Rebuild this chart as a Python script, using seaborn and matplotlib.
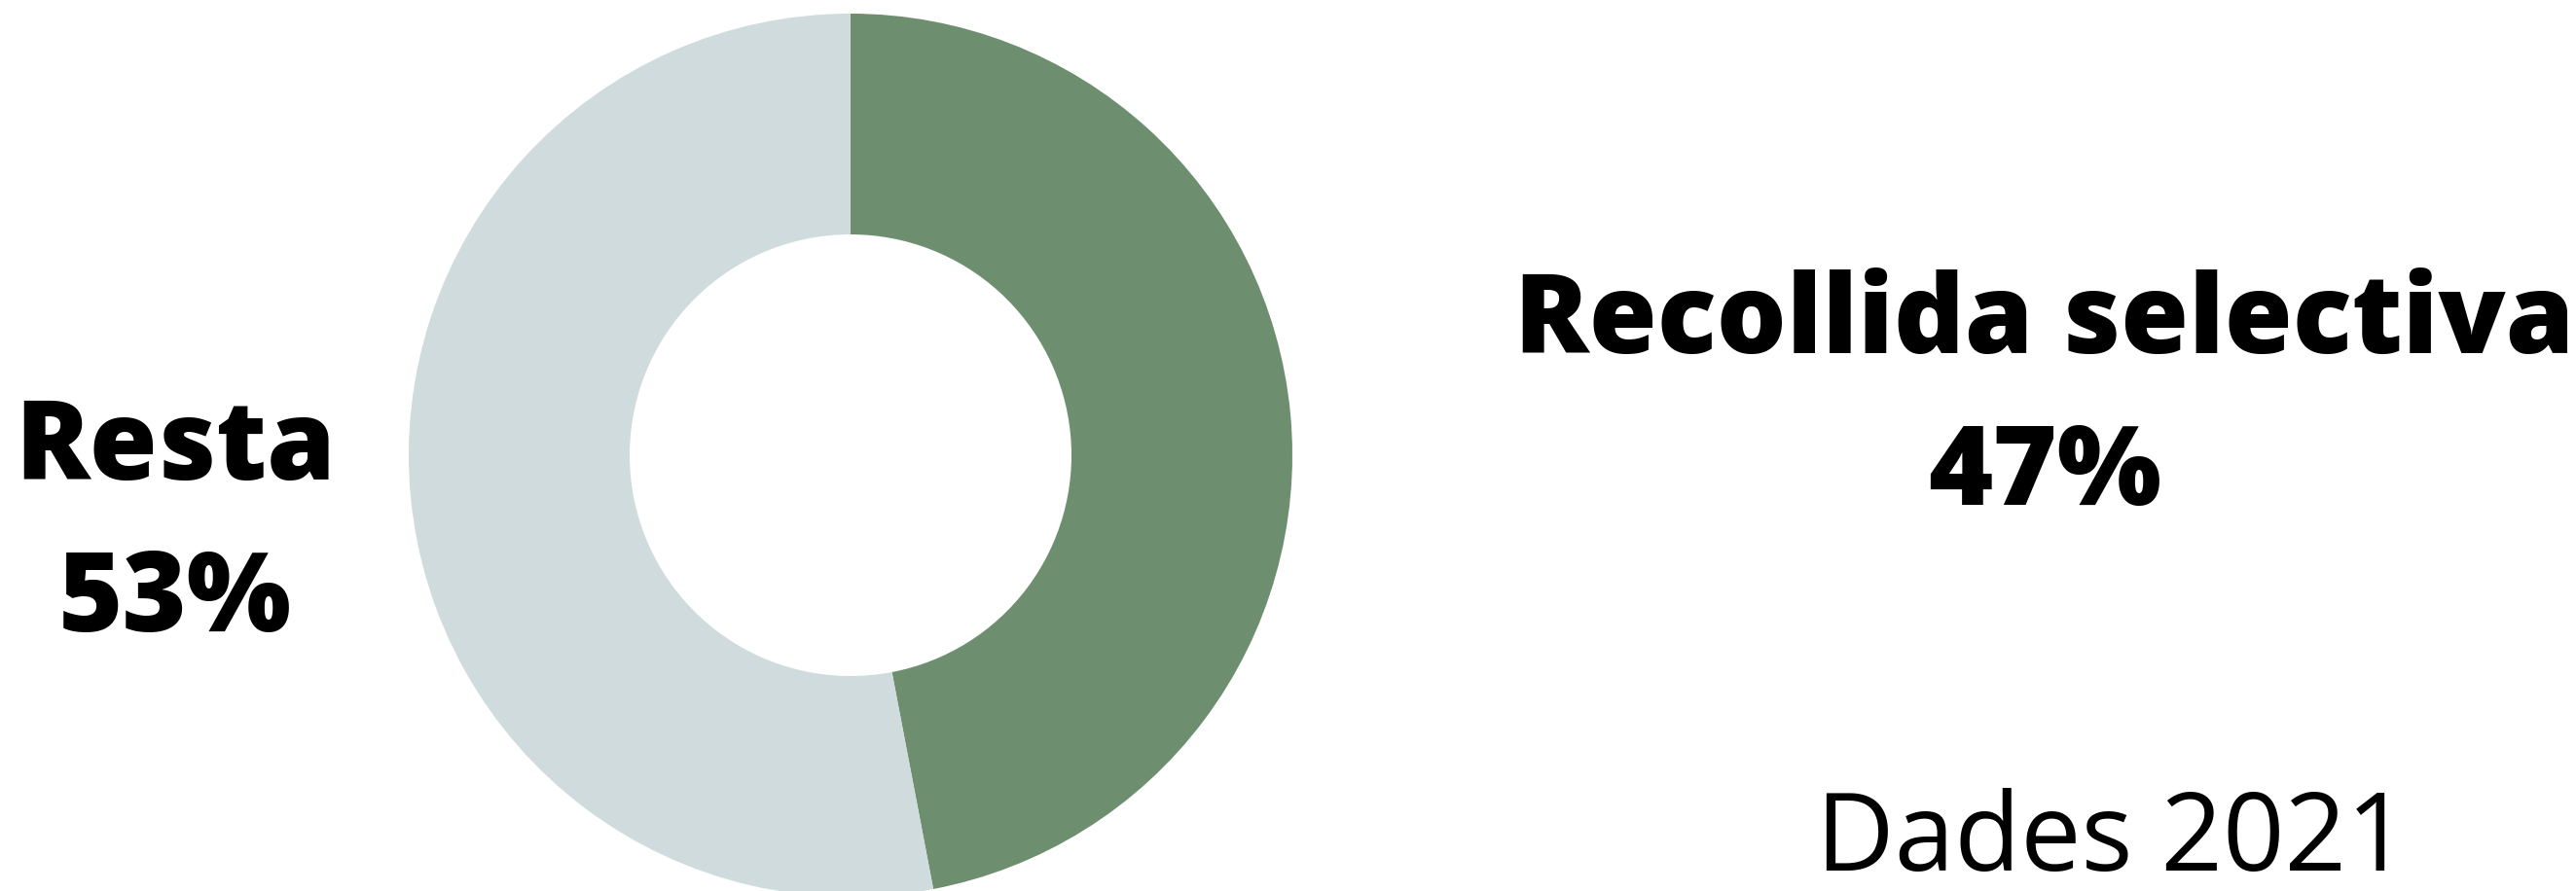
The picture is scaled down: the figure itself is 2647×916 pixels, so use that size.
import matplotlib
matplotlib.use("Agg")
import matplotlib.pyplot as plt
import seaborn as sns

categories = ["Recollida selectiva", "Resta"]
values = [47, 53]
colors = ["#6e8f6f", "#cfdbdc"]
note = "Dades 2021"

sns.set_theme(style="white")
plt.rcParams["font.family"] = ["Open Sans", "DejaVu Sans"]

W, H = 2647, 916
fig = plt.figure(figsize=(W / 100, H / 100), dpi=100)
ax = fig.add_axes([0, 0, 1, 1])

cx, cy, R = 874, H - 468, 454
ax.pie(values, colors=colors, startangle=90, counterclock=False,
       radius=R, center=(cx, cy),
       wedgeprops=dict(width=R / 2, linewidth=0))
ax.set_xlim(0, W)
ax.set_ylim(0, H)
ax.set_aspect("equal")
ax.axis("off")

fs = 81.5
# label positions (x center, baseline of first line)
pos = {"Recollida selectiva": (2101, 363), "Resta": (180, 493)}
for cat, val in zip(categories, values):
    x, yb = pos[cat]
    ax.text(x, H - yb, cat, ha="center", va="baseline", fontsize=fs,
            fontweight="heavy", color="black")
    ax.text(x, H - (yb + 156), f"{val}%", ha="center", va="baseline",
            fontsize=fs, fontweight="heavy", color="black")

ax.text(2170, H - 895, note, ha="center", va="baseline", fontsize=80,
        fontweight="normal", color="black")

fig.savefig("out.png", dpi=100, facecolor="white")
